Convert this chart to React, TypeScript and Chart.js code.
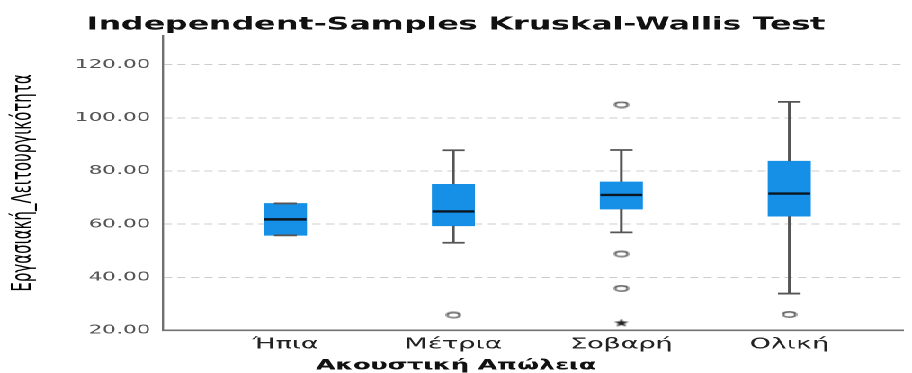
import React, { useEffect, useRef } from 'react';
import { Chart, registerables } from 'chart.js';

Chart.register(...registerables);

// ---- data ----
const categories = ['Ήπια', 'Μέτρια', 'Σοβαρή', 'Ολική'];
const q1 = [55.8, 59.4, 65.7, 63.0];
const q3 = [67.8, 75.0, 75.9, 83.7];
const medians = [61.8, 64.8, 71.0, 71.5];
const whiskerLow = [55.8, 53.0, 56.9, 33.9];
const whiskerHigh = [67.8, 87.8, 87.9, 106.0];
const outlierCat = [1, 2, 2, 2, 3];
const outlierVal = [25.8, 104.9, 48.8, 35.8, 26.0];
const extremeCat = [2];
const extremeVal = [22.9];
const yTickValues = [20, 40, 60, 80, 100, 120];
const yMin = 20;
const yMax = 131;

const chartTitle = 'Independent-Samples Kruskal-Wallis Test';
const xTitle = 'Ακουστική Απώλεια';
const yTitle = 'Εργασιακή_Λειτουργικότητα';

// ---- layout (pre-stretch) ----
const BASE_W = 507;
const STRETCH = 912 / BASE_W;

function makeEllipse() {
  const c = document.createElement('canvas');
  c.width = 9; c.height = 7;
  const g = c.getContext('2d')!;
  g.beginPath();
  g.ellipse(4.5, 3.5, 3.5, 2.6, 0, 0, Math.PI * 2);
  g.fillStyle = '#ffffff';
  g.fill();
  g.lineWidth = 1.1;
  g.strokeStyle = '#3a3a3a';
  g.stroke();
  return c;
}

function makeStar() {
  const c = document.createElement('canvas');
  c.width = 9; c.height = 9;
  const g = c.getContext('2d')!;
  g.beginPath();
  const cx = 4.5, cy = 4.8, R = 4.2, r = 1.8;
  for (let k = 0; k < 10; k++) {
    const ang = -Math.PI / 2 + (k * Math.PI) / 5;
    const rad = k % 2 === 0 ? R : r;
    const px = cx + rad * Math.cos(ang);
    const py = cy + rad * Math.sin(ang);
    if (k === 0) g.moveTo(px, py); else g.lineTo(px, py);
  }
  g.closePath();
  g.fillStyle = '#222222';
  g.fill();
  return c;
}

const whiskerPlugin = {
  id: 'boxWhiskers',
  afterDatasetsDraw(chart: any) {
    const { ctx, scales } = chart;
    const x = scales.x;
    const y = scales.y;
    const capHalf = 6.3;
    const boxHalf = 11.65;
    ctx.save();
    categories.forEach((_, i) => {
      const cx = x.getPixelForValue(i);
      const yHi = y.getPixelForValue(whiskerHigh[i]);
      const yLo = y.getPixelForValue(whiskerLow[i]);
      const yQ1 = y.getPixelForValue(q1[i]);
      const yQ3 = y.getPixelForValue(q3[i]);
      ctx.strokeStyle = '#555555';
      ctx.lineWidth = 1.5;
      ctx.beginPath();
      if (yHi < yQ3) { ctx.moveTo(cx, yQ3); ctx.lineTo(cx, yHi); }
      if (yLo > yQ1) { ctx.moveTo(cx, yQ1); ctx.lineTo(cx, yLo); }
      ctx.stroke();
      ctx.lineWidth = 1.8;
      ctx.beginPath();
      ctx.moveTo(cx - capHalf, yHi); ctx.lineTo(cx + capHalf, yHi);
      ctx.moveTo(cx - capHalf, yLo); ctx.lineTo(cx + capHalf, yLo);
      ctx.stroke();
      const yMed = y.getPixelForValue(medians[i]);
      ctx.strokeStyle = '#0b1620';
      ctx.lineWidth = 2.4;
      ctx.beginPath();
      ctx.moveTo(cx - boxHalf, yMed); ctx.lineTo(cx + boxHalf, yMed);
      ctx.stroke();
    });
    ctx.restore();
  },
};

export default function App() {
  const canvasRef = useRef<HTMLCanvasElement | null>(null);

  useEffect(() => {
    if (!canvasRef.current) return;
    const ellipse = makeEllipse();
    const star = makeStar();
    const chart = new Chart(canvasRef.current, {
      type: 'bar',
      data: {
        datasets: [
          {
            type: 'bar',
            data: categories.map((_, i) => ({ x: i, y: [q1[i], q3[i]] })) as any,
            backgroundColor: '#1690E6',
            borderWidth: 0,
            borderSkipped: false,
            barThickness: 23.3,
            grouped: false,
          } as any,
          {
            type: 'line',
            data: outlierCat.map((c, i) => ({ x: c, y: outlierVal[i] })),
            showLine: false,
            pointStyle: ellipse,
            pointRadius: 4,
          } as any,
          {
            type: 'line',
            data: extremeCat.map((c, i) => ({ x: c, y: extremeVal[i] })),
            showLine: false,
            pointStyle: star,
            pointRadius: 4,
          } as any,
        ],
      },
      options: {
        animation: false,
        responsive: true,
        maintainAspectRatio: false,
        devicePixelRatio: 2,
        layout: { padding: { left: 0, right: 0, top: 0, bottom: 0 } },
        plugins: {
          legend: { display: false },
          tooltip: { enabled: false },
          title: {
            display: true,
            text: chartTitle,
            color: '#111111',
            font: { family: 'DejaVu Sans', weight: 'bold', size: 17.6 },
            padding: { top: 14.3, bottom: 0 },
          },
          subtitle: {
            display: true,
            position: 'bottom',
            text: xTitle,
            color: '#111111',
            font: { family: 'DejaVu Sans', weight: 'bold', size: 14, lineHeight: 1 },
            padding: { top: 0.5, bottom: 0 },
          },
        },
        scales: {
          x: {
            type: 'linear',
            min: -0.729,
            max: 3.677,
            offset: false,
            afterBuildTicks: (scale: any) => {
              scale.ticks = categories.map((_, i) => ({ value: i }));
            },
            grid: { display: false, drawTicks: false },
            border: { display: true, color: '#707070', width: 1.6 },
            ticks: {
              autoSkip: false,
              maxRotation: 0,
              padding: 5,
              color: '#222222',
              font: { family: 'DejaVu Sans', size: 15 },
              callback: (v: any) => categories[Math.round(Number(v))] ?? '',
            },
          },
          y: {
            type: 'linear',
            min: yMin,
            max: yMax,
            afterBuildTicks: (scale: any) => {
              scale.ticks = yTickValues.map((v) => ({ value: v }));
            },
            afterFit: (scale: any) => { scale.width = 90.6; },
            grid: {
              drawTicks: false,
              color: (ctx: any) => (ctx.tick && ctx.tick.value === yMin ? 'rgba(0,0,0,0)' : '#cccccc'),
              lineWidth: 1,
            },
            border: { display: true, color: '#707070', width: 1.2, dash: [4.5, 3] },
            ticks: {
              padding: 7,
              color: '#555555',
              font: { family: 'DejaVu Sans', size: 12 },
              callback: (v: any) => Number(v).toFixed(2),
            },
            title: {
              display: true,
              text: yTitle,
              color: '#000000',
              font: { family: 'DejaVu Sans', size: 15 },
              padding: { top: 4, bottom: 0 },
            },
          },
        },
      } as any,
      plugins: [whiskerPlugin],
    });
    return () => chart.destroy();
  }, []);

  return (
    <div
      style={{
        position: 'fixed',
        left: 0,
        top: 0,
        width: BASE_W + 'px',
        height: '373px',
        transform: `scaleX(${STRETCH})`,
        transformOrigin: '0 0',
        background: '#ffffff',
      }}
    >
      <canvas ref={canvasRef} />
    </div>
  );
}
